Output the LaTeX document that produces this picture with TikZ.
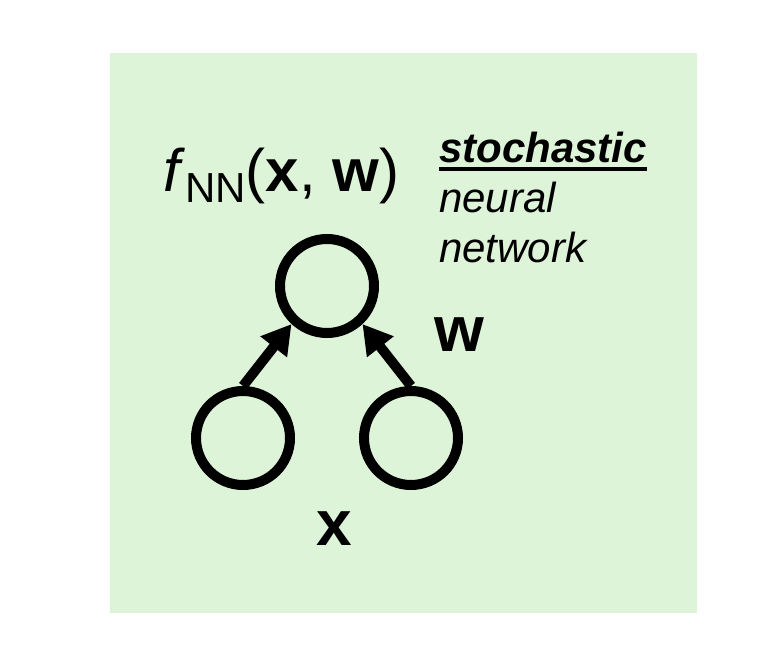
\documentclass[tikz,border=0pt]{standalone}
\usepackage{fontspec}
\setmainfont{Liberation Sans}
\usepackage{tikz}
\usetikzlibrary{arrows.meta}
\definecolor{panelgreen}{RGB}{222,244,217}
\tikzstyle{unit}=[circle,draw=black,line width=10pt,minimum size=94pt,inner sep=0pt]
\tikzstyle{caption}=[anchor=base west,inner sep=0pt,font=\fontsize{42}{50}\selectfont\itshape]
\tikzstyle{varlabel}=[anchor=base,inner sep=0pt,font=\fontsize{64}{76}\selectfont\bfseries]

\begin{document}
\begin{tikzpicture}[x=1pt,y=-1pt,>={Triangle[length=29pt,width=32pt]}]
  \useasboundingbox (0,0) rectangle (768,660);
  \fill[panelgreen] (110,53) rectangle (697,613);
  \foreach \name/\x/\y in {out/327/286, in-1/243/438, in-2/411/438}
    \node[unit] (\name) at (\x,\y) {};
  \foreach \from/\angle in {1/227,2/313}
    \draw[->,line width=10pt] (in-\from.north) -- (out.\angle);
  \node[anchor=base west,inner sep=0pt,font=\fontsize{60}{72}\selectfont] (fnn) at (163,192)
    {\textit{f}\raisebox{-11pt}{\fontsize{42}{50}\selectfont NN}(\textbf{x}, \textbf{w})};
  \node[caption,font=\fontsize{42}{50}\selectfont\bfseries\itshape] (sto) at (439,163) {stochastic};
  \node[caption] (neural) at (439,213) {neural};
  \node[caption] (network) at (439,262) {network};
  \draw[line width=4pt] ([yshift=-6pt]sto.base west) -- ([yshift=-6pt]sto.base east);
  \node[varlabel] (wlab) at (459,351) {w};
  \node[varlabel] (xlab) at (334,545) {x};
\end{tikzpicture}
\end{document}
